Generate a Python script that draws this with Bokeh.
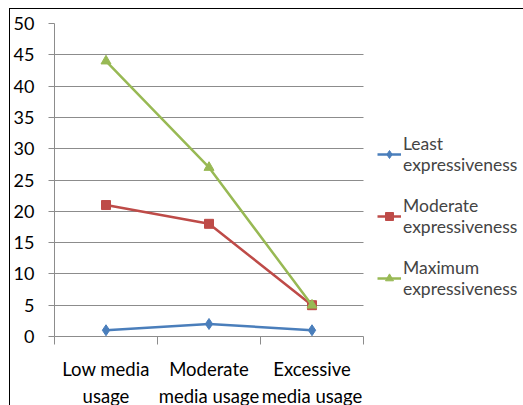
from bokeh.plotting import figure
from bokeh.models import Legend, LegendItem, FixedTicker, Range1d
from bokeh.embed import file_html
from bokeh.resources import INLINE

categories = ["Low media\nusage", "Moderate\nmedia usage", "Excessive\nmedia usage"]
least = [1, 2, 1]
moderate = [21, 18, 5]
maximum = [44, 27, 5]
series_names = ["Least\nexpressiveness", "Moderate\nexpressiveness", "Maximum\nexpressiveness"]
y_ticks = list(range(0, 55, 5))

FONT = "Lato"
blue, red, green = "#4A7EBB", "#BE4B48", "#98B954"

x = list(range(len(categories)))
n = len(categories)

p = figure(frame_width=471, frame_height=313,
           x_range=Range1d(-0.5, -0.5 + 471 / 103), y_range=Range1d(0, 50),
           output_backend="svg", toolbar_location=None,
           min_border_left=43, min_border_top=14, min_border_right=0, min_border_bottom=69,
           margin=(8, 0, 0, 9),
           styles={"border-left": "1.5px solid #000", "border-top": "1.5px solid #000"})

p.outline_line_color = None
p.xgrid.grid_line_color = None
p.ygrid.grid_line_color = "#8C8C8C"
p.ygrid.grid_line_width = 1
p.ygrid.cross_bounds = (-0.5, n - 0.5)

p.yaxis.ticker = FixedTicker(ticks=y_ticks)
p.yaxis.minor_tick_line_color = None
p.yaxis.axis_line_color = "#8C8C8C"
p.yaxis.major_tick_line_color = "#8C8C8C"
p.yaxis.major_tick_out = 6
p.yaxis.major_tick_in = 0
p.yaxis.major_label_standoff = 14
p.yaxis.major_label_text_font = FONT
p.yaxis.major_label_text_font_size = "18px"
p.yaxis.major_label_text_color = "#000000"

p.xaxis.bounds = (-0.5, n - 0.5)
p.xaxis.ticker = FixedTicker(ticks=x, minor_ticks=[i - 0.5 for i in range(n + 1)])
p.xaxis.major_label_overrides = {i: c for i, c in zip(x, categories)}
p.xaxis.axis_line_color = "#8C8C8C"
p.xaxis.major_tick_line_color = None
p.xaxis.minor_tick_line_color = "#8C8C8C"
p.xaxis.minor_tick_out = 8
p.xaxis.minor_tick_in = 0
p.xaxis.major_label_standoff = 13
p.xaxis.major_label_text_font = FONT
p.xaxis.major_label_text_font_size = "18.5px"
p.xaxis.major_label_text_color = "#000000"
p.xaxis.major_label_text_line_height = 1.25

r1 = p.line(x, least, line_color=blue, line_width=2.5)
m1 = p.scatter(x, least, marker="diamond", size=11, fill_color=blue, line_color=blue)
r2 = p.line(x, moderate, line_color=red, line_width=2.5)
m2 = p.scatter(x, moderate, marker="square", size=9, fill_color=red, line_color=red)
r3 = p.line(x, maximum, line_color=green, line_width=2.5)
m3 = p.scatter(x, maximum, marker="triangle", size=10, fill_color=green, line_color=green)

legend = Legend(items=[
    LegendItem(label=series_names[0], renderers=[r1, m1]),
    LegendItem(label=series_names[1], renderers=[r2, m2]),
    LegendItem(label=series_names[2], renderers=[r3, m3]),
], location=(323, 37), padding=0, margin=0, spacing=20,
    glyph_width=24, label_standoff=2,
    label_text_font=FONT, label_text_font_size="17.5px", label_text_line_height=1.35,
    border_line_color=None, background_fill_alpha=0)
p.add_layout(legend, "center")

open("out.html", "w").write(file_html(p, INLINE))
